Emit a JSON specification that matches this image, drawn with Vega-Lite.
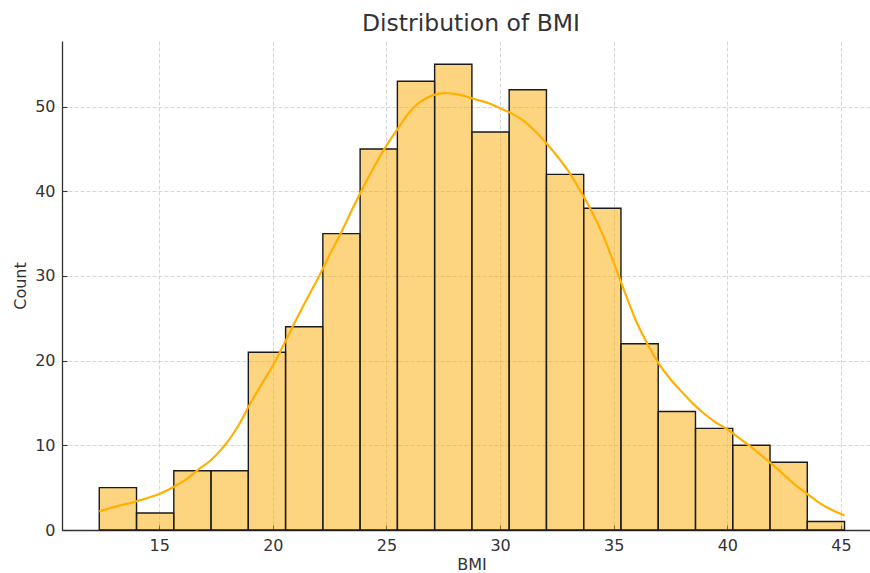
{
  "$schema": "https://vega.github.io/schema/vega-lite/v6.json",
  "width": 808,
  "height": 489,
  "autosize": {"type": "none"},
  "padding": {"left": 62, "top": 41, "right": 0, "bottom": 43},
  "background": "white",
  "title": {
    "text": "Distribution of BMI",
    "font": "DejaVu Sans",
    "fontSize": 23.5,
    "fontWeight": "normal",
    "color": "#333333",
    "anchor": "middle",
    "baseline": "alphabetic",
    "offset": 8,
    "dx": 5,
    "dy": 21
  },
  "config": {
    "view": {"stroke": null},
    "axis": {
      "labelFont": "DejaVu Sans",
      "labelFontSize": 16,
      "labelColor": "#333333",
      "titleFont": "DejaVu Sans",
      "titleFontSize": 16,
      "titleFontWeight": "normal",
      "titleColor": "#333333",
      "domainColor": "#333333",
      "domainWidth": 1.3,
      "tickColor": "#333333",
      "tickWidth": 1.1,
      "tickSize": -5,
      "labelPadding": 12,
      "grid": true,
      "gridColor": "#cccccc",
      "gridDash": [4, 2],
      "gridWidth": 0.8
    }
  },
  "datasets": {
    "bins": [
      {"bin_start": 12.36, "bin_end": 14.00, "count": 5},
      {"bin_start": 14.00, "bin_end": 15.64, "count": 2},
      {"bin_start": 15.64, "bin_end": 17.28, "count": 7},
      {"bin_start": 17.28, "bin_end": 18.92, "count": 7},
      {"bin_start": 18.92, "bin_end": 20.56, "count": 21},
      {"bin_start": 20.56, "bin_end": 22.20, "count": 24},
      {"bin_start": 22.20, "bin_end": 23.84, "count": 35},
      {"bin_start": 23.84, "bin_end": 25.48, "count": 45},
      {"bin_start": 25.48, "bin_end": 27.12, "count": 53},
      {"bin_start": 27.12, "bin_end": 28.76, "count": 55},
      {"bin_start": 28.76, "bin_end": 30.40, "count": 47},
      {"bin_start": 30.40, "bin_end": 32.04, "count": 52},
      {"bin_start": 32.04, "bin_end": 33.68, "count": 42},
      {"bin_start": 33.68, "bin_end": 35.32, "count": 38},
      {"bin_start": 35.32, "bin_end": 36.96, "count": 22},
      {"bin_start": 36.96, "bin_end": 38.60, "count": 14},
      {"bin_start": 38.60, "bin_end": 40.24, "count": 12},
      {"bin_start": 40.24, "bin_end": 41.88, "count": 10},
      {"bin_start": 41.88, "bin_end": 43.52, "count": 8},
      {"bin_start": 43.52, "bin_end": 45.16, "count": 1}
    ],
    "kde": [
      {"bmi": 12.36, "density": 2.2},
      {"bmi": 13.0, "density": 2.7},
      {"bmi": 14.0, "density": 3.4},
      {"bmi": 15.0, "density": 4.25},
      {"bmi": 15.64, "density": 5.1},
      {"bmi": 16.2, "density": 6.0},
      {"bmi": 16.7, "density": 7.1},
      {"bmi": 17.3, "density": 8.3},
      {"bmi": 18.0, "density": 10.4},
      {"bmi": 18.5, "density": 12.4},
      {"bmi": 19.0, "density": 14.9},
      {"bmi": 19.5, "density": 17.2},
      {"bmi": 20.0, "density": 19.4},
      {"bmi": 20.5, "density": 22.0},
      {"bmi": 21.0, "density": 24.7},
      {"bmi": 21.5, "density": 27.3},
      {"bmi": 22.0, "density": 29.8},
      {"bmi": 22.5, "density": 32.5},
      {"bmi": 23.0, "density": 35.1},
      {"bmi": 23.5, "density": 37.9},
      {"bmi": 24.0, "density": 40.6},
      {"bmi": 24.5, "density": 43.1},
      {"bmi": 25.0, "density": 45.4},
      {"bmi": 25.5, "density": 47.4},
      {"bmi": 26.0, "density": 49.3},
      {"bmi": 26.5, "density": 50.6},
      {"bmi": 27.0, "density": 51.3},
      {"bmi": 27.5, "density": 51.6},
      {"bmi": 28.0, "density": 51.5},
      {"bmi": 28.5, "density": 51.2},
      {"bmi": 29.0, "density": 50.8},
      {"bmi": 29.5, "density": 50.4},
      {"bmi": 30.0, "density": 49.8},
      {"bmi": 30.5, "density": 49.2},
      {"bmi": 31.0, "density": 48.4},
      {"bmi": 31.5, "density": 47.2},
      {"bmi": 32.0, "density": 45.8},
      {"bmi": 32.5, "density": 44.2},
      {"bmi": 33.0, "density": 42.4},
      {"bmi": 33.5, "density": 40.2},
      {"bmi": 34.0, "density": 37.8},
      {"bmi": 34.5, "density": 35.0},
      {"bmi": 35.0, "density": 31.6},
      {"bmi": 35.5, "density": 28.0},
      {"bmi": 36.0, "density": 24.6},
      {"bmi": 36.5, "density": 21.9},
      {"bmi": 37.0, "density": 19.6},
      {"bmi": 37.5, "density": 17.8},
      {"bmi": 38.0, "density": 16.3},
      {"bmi": 38.5, "density": 14.9},
      {"bmi": 39.0, "density": 13.7},
      {"bmi": 39.5, "density": 12.7},
      {"bmi": 40.0, "density": 11.9},
      {"bmi": 40.5, "density": 10.9},
      {"bmi": 41.0, "density": 9.9},
      {"bmi": 41.5, "density": 8.8},
      {"bmi": 42.0, "density": 7.7},
      {"bmi": 42.5, "density": 6.5},
      {"bmi": 43.0, "density": 5.3},
      {"bmi": 43.5, "density": 4.3},
      {"bmi": 44.0, "density": 3.3},
      {"bmi": 44.5, "density": 2.5},
      {"bmi": 45.16, "density": 1.7}
    ]
  },
  "layer": [
    {
      "data": {"name": "bins"},
      "mark": {"type": "rect", "fill": "#fcaa00", "fillOpacity": 0.5, "stroke": "#1a1a1a", "strokeWidth": 1.4},
      "encoding": {
        "x": {
          "field": "bin_start",
          "type": "quantitative",
          "scale": {"domain": [10.72, 46.28], "nice": false, "zero": false},
          "axis": {"values": [15, 20, 25, 30, 35, 40, 45], "title": "BMI", "titleX": 409.5, "titleY": 39, "titleBaseline": "alphabetic", "titleAnchor": "middle"}
        },
        "x2": {"field": "bin_end"},
        "y": {
          "field": "count",
          "type": "quantitative",
          "scale": {"domain": [0, 57.75], "nice": false},
          "axis": {"values": [0, 10, 20, 30, 40, 50], "title": "Count", "titleX": -37, "titleY": 244.5, "titleAngle": -90, "titleBaseline": "alphabetic", "titleAnchor": "middle"}
        },
        "y2": {"datum": 0}
      }
    },
    {
      "data": {"name": "kde"},
      "mark": {"type": "line", "color": "#ffb000", "strokeWidth": 2.2, "interpolate": "catmull-rom"},
      "encoding": {
        "x": {"field": "bmi", "type": "quantitative"},
        "y": {"field": "density", "type": "quantitative"}
      }
    }
  ]
}
